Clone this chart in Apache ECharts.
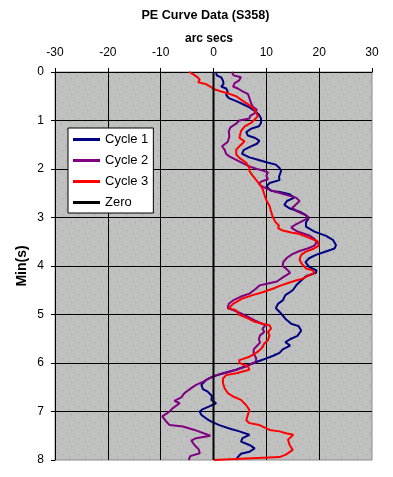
<!DOCTYPE html>
<html>
<head>
<meta charset="utf-8">
<script src="https://cdn.jsdelivr.net/npm/echarts@6/dist/echarts.min.js"></script>
<style>
html,body{margin:0;padding:0;background:#fff;}
#chart{width:393px;height:477px;}
</style>
</head>
<body>
<div id="chart"></div>
<script>
// ---- data: [arc secs, minutes] ----
var seriesNames = ['Cycle 1', 'Cycle 2', 'Cycle 3', 'Zero'];
var xTicks = [-30, -20, -10, 0, 10, 20, 30];
var yTicks = [0, 1, 2, 3, 4, 5, 6, 7, 8];

var cycle1 = [
  [0.5,0],[0.6,0.07],[1.45,0.11],[1.8,0.18],[1.9,0.25],[1.45,0.3],[2.4,0.34],[2.7,0.41],[2.4,0.47],[2.9,0.54],
  [4.3,0.6],[5.5,0.66],[6.8,0.73],[7.8,0.8],[8.6,0.88],[9.0,0.96],[9.0,1.05],[8.6,1.12],[7.1,1.17],[6.2,1.24],
  [6.5,1.31],[7.9,1.36],[8.7,1.42],[8.2,1.48],[6.8,1.55],[5.7,1.61],[5.4,1.69],[6.8,1.76],[8.4,1.81],[10.0,1.86],
  [11.8,1.91],[12.5,1.98],[12.8,2.04],[12.4,2.16],[12.5,2.23],[10.6,2.29],[10.0,2.36],[10.9,2.45],[12.8,2.48],[14.4,2.52],
  [15.3,2.59],[13.9,2.66],[13.4,2.74],[14.4,2.81],[16.3,2.88],[17.5,2.95],[18.0,3.02],[17.5,3.1],[17.5,3.19],[19.1,3.29],
  [21.3,3.38],[22.6,3.46],[23.2,3.57],[22.9,3.64],[21.0,3.71],[19.4,3.77],[18.1,3.84],[17.4,3.92],[18.1,4.02],[19.5,4.09],
  [19.4,4.14],[17.5,4.21],[16.6,4.3],[15.8,4.38],[15.0,4.5],[13.6,4.6],[13.1,4.71],[12.2,4.78],[11.8,4.87],[12.8,4.98],
  [13.7,5.1],[14.7,5.19],[16.1,5.24],[16.6,5.33],[15.9,5.44],[14.5,5.51],[13.6,5.57],[14.5,5.64],[13.1,5.72],[12.5,5.79],
  [11.3,5.85],[9.9,5.91],[8.6,5.96],[7.1,6.02],[5.9,6.07],[4.3,6.14],[1.8,6.21],[-0.1,6.28],[-1.4,6.35],[-2.3,6.45],
  [-2.0,6.54],[-1.1,6.59],[-0.3,6.68],[-0.4,6.76],[0.5,6.83],[-0.9,6.9],[-2.0,6.95],[-2.6,7.0],[-2.3,7.07],[-1.3,7.15],
  [-0.4,7.21],[1.1,7.28],[3.0,7.35],[4.9,7.41],[6.8,7.48],[5.5,7.55],[5.2,7.62],[6.8,7.69],[7.8,7.76],[6.8,7.83],
  [5.2,7.87],[4.6,7.94],[4.3,8.0]
];

var cycle2 = [
  [3.5,0],[3.8,0.07],[5.2,0.11],[4.8,0.18],[4.0,0.23],[3.7,0.3],[4.6,0.34],[5.5,0.4],[6.5,0.45],[6.8,0.54],
  [7.1,0.64],[7.4,0.71],[8.2,0.78],[7.8,0.85],[6.9,0.91],[6.8,0.96],[4.9,1.0],[4.2,1.07],[3.2,1.14],[2.9,1.22],
  [3.0,1.33],[2.7,1.44],[1.6,1.53],[2.1,1.6],[2.4,1.69],[3.0,1.74],[4.3,1.81],[5.5,1.88],[6.9,1.95],[8.2,2.0],
  [9.0,2.02],[10.3,2.07],[10.0,2.14],[10.3,2.21],[9.0,2.26],[8.6,2.31],[9.2,2.36],[10.6,2.43],[11.7,2.47],[13.4,2.52],
  [15.6,2.59],[16.3,2.66],[15.6,2.73],[14.9,2.8],[15.9,2.88],[17.4,2.95],[18.1,3.0],[16.9,3.07],[15.6,3.14],[14.7,3.21],
  [15.9,3.29],[18.1,3.37],[19.1,3.44],[19.5,3.51],[19.1,3.58],[17.8,3.64],[16.3,3.69],[15.0,3.75],[13.9,3.83],[13.2,3.92],
  [13.1,4.0],[13.9,4.07],[14.5,4.14],[13.2,4.23],[12.0,4.32],[10.3,4.36],[8.7,4.4],[7.9,4.48],[6.8,4.57],[5.2,4.63],
  [3.7,4.71],[2.9,4.78],[2.7,4.87],[3.7,4.91],[4.9,4.96],[6.2,5.03],[7.8,5.12],[9.0,5.18],[9.8,5.22],[9.3,5.29],
  [9.6,5.36],[8.8,5.43],[8.6,5.51],[8.8,5.58],[8.2,5.65],[7.6,5.72],[7.6,5.81],[8.1,5.9],[8.0,5.98],[7.1,6.02],
  [6.3,6.07],[4.6,6.13],[2.4,6.2],[0.5,6.25],[-0.9,6.32],[-2.0,6.39],[-3.3,6.45],[-4.5,6.54],[-5.5,6.62],[-6.1,6.71],
  [-7.4,6.78],[-6.4,6.83],[-7.7,6.93],[-8.3,7.0],[-9.7,7.1],[-9.0,7.2],[-8.3,7.28],[-5.8,7.31],[-3.6,7.38],[-0.6,7.5],
  [-3.3,7.55],[-4.2,7.6],[-3.6,7.69],[-2.8,7.78],[-2.6,7.86],[-4.4,7.92],[-4.7,8.0]
];

var cycle3 = [
  [-4.6,0],[-3.8,0.05],[-3.0,0.11],[-2.6,0.16],[-2.9,0.21],[-1.4,0.25],[-0.6,0.3],[0.0,0.35],[1.4,0.4],[3.0,0.45],
  [4.3,0.5],[5.2,0.57],[6.2,0.64],[7.1,0.71],[7.8,0.78],[8.1,0.85],[8.4,0.91],[7.8,0.98],[7.1,1.05],[5.9,1.12],
  [5.2,1.22],[4.9,1.36],[5.9,1.43],[4.9,1.53],[4.3,1.6],[4.3,1.7],[4.9,1.77],[6.2,1.87],[6.8,1.98],[6.8,2.04],
  [7.3,2.12],[8.1,2.23],[8.7,2.31],[9.3,2.41],[9.6,2.52],[10.0,2.64],[10.6,2.76],[10.9,2.88],[11.2,2.98],[11.7,3.09],
  [12.4,3.17],[12.2,3.22],[13.1,3.27],[14.7,3.31],[16.3,3.34],[18.1,3.42],[19.7,3.49],[19.9,3.58],[18.8,3.65],[17.4,3.71],
  [16.6,3.77],[16.3,3.86],[16.6,3.94],[16.9,3.98],[17.5,4.05],[18.8,4.09],[19.1,4.14],[17.8,4.21],[16.9,4.26],[15.6,4.3],
  [14.4,4.34],[12.8,4.4],[11.2,4.47],[9.3,4.54],[7.4,4.6],[5.5,4.67],[3.7,4.78],[2.9,4.87],[4.2,4.91],[4.8,5.0],
  [6.5,5.08],[7.8,5.15],[9.3,5.19],[10.6,5.22],[10.9,5.29],[10.3,5.36],[10.6,5.43],[10.3,5.53],[9.6,5.6],[9.3,5.67],
  [8.7,5.74],[7.8,5.81],[6.8,5.87],[4.9,5.94],[4.9,6.0],[6.5,6.07],[6.8,6.14],[4.3,6.21],[2.4,6.25],[1.8,6.32],
  [1.8,6.42],[2.1,6.52],[2.7,6.62],[3.7,6.69],[5.2,6.76],[6.2,6.87],[6.8,6.97],[6.5,7.07],[6.2,7.18],[6.8,7.24],
  [8.7,7.28],[10.6,7.38],[12.5,7.41],[13.7,7.45],[15.1,7.48],[15.3,7.52],[14.1,7.58],[14.4,7.69],[15.0,7.79],[13.7,7.89],
  [12.5,7.94],[0.1,8.0]
];

var zero = [[0,0],[0,8]];

var seriesData = [cycle1, cycle2, cycle3, zero];
var seriesColors = ['#000080', '#800080', '#ff0000', '#000000'];

// ---- background texture ----
function makePattern() {
  var c = document.createElement('canvas');
  c.width = 16; c.height = 16;
  var g = c.getContext('2d');
  g.fillStyle = '#c0c0c0';
  g.fillRect(0, 0, 16, 16);
  var green = [[2,1],[10,4],[5,9],[13,12]];
  var grey = [[7,14],[14,6]];
  g.fillStyle = '#74b874';
  green.forEach(function (p) { g.fillRect(p[0], p[1], 1, 1); });
  g.fillStyle = '#a0a0a0';
  grey.forEach(function (p) { g.fillRect(p[0], p[1], 1, 1); });
  return c;
}

var FONT = '"Liberation Sans", Arial, sans-serif';
var chart = echarts.init(document.getElementById('chart'), null, {renderer: 'canvas'});

var series = seriesNames.map(function (name, i) {
  return {
    name: name,
    type: 'line',
    data: seriesData[i],
    symbol: 'none',
    showSymbol: false,
    smooth: false,
    animation: false,
    lineStyle: {color: seriesColors[i], width: 2},
    itemStyle: {color: seriesColors[i]},
    z: 3 + i
  };
});

chart.setOption({
  animation: false,
  backgroundColor: '#ffffff',
  textStyle: {fontFamily: FONT},
  grid: {
    left: 55, right: 21, top: 72, bottom: 17,
    show: true,
    backgroundColor: {image: makePattern(), repeat: 'repeat'},
    borderColor: '#8c8c8c',
    borderWidth: 1
  },
  legend: {
    data: seriesNames,
    orient: 'vertical',
    left: 68, top: 128,
    padding: [4, 5, 3, 5],
    itemGap: 6,
    itemWidth: 27,
    itemHeight: 3,
    icon: 'rect',
    backgroundColor: '#ffffff',
    borderColor: '#000000',
    borderWidth: 1,
    borderRadius: 0,
    selectedMode: false,
    textStyle: {fontFamily: FONT, fontSize: 13, color: '#000', lineHeight: 15}
  },
  xAxis: {
    type: 'value',
    position: 'top',
    min: xTicks[0], max: xTicks[xTicks.length - 1], interval: 10,
    axisLine: {show: true, onZero: false, lineStyle: {color: '#000', width: 1}},
    axisTick: {show: true, inside: false, length: 4, lineStyle: {color: '#000'}},
    axisLabel: {color: '#000', fontSize: 12, fontFamily: FONT, margin: 13},
    splitLine: {show: true, showMaxLine: false, lineStyle: {color: '#000', width: 1}}
  },
  yAxis: {
    type: 'value',
    inverse: true,
    min: yTicks[0], max: yTicks[yTicks.length - 1], interval: 1,
    axisLine: {show: true, onZero: false, lineStyle: {color: '#000', width: 1}},
    axisTick: {show: true, inside: false, length: 4, lineStyle: {color: '#000'}},
    axisLabel: {color: '#000', fontSize: 12, fontFamily: FONT, margin: 11},
    splitLine: {show: true, showMaxLine: false, lineStyle: {color: '#000', width: 1}}
  },
  graphic: [
    {type: 'text', x: 205.5, y: 16, style: {text: 'PE Curve Data (S358)', font: 'bold 12.6px ' + FONT, fill: '#000', textAlign: 'center', textVerticalAlign: 'middle'}},
    {type: 'text', x: 209, y: 39, style: {text: 'arc secs', font: 'bold 12px ' + FONT, fill: '#000', textAlign: 'center', textVerticalAlign: 'middle'}},
    {type: 'text', x: 22, y: 266, rotation: Math.PI / 2, style: {text: 'Min(s)', font: 'bold 14px ' + FONT, fill: '#000', textAlign: 'center', textVerticalAlign: 'middle'}}
  ],
  series: series
});
</script>
</body>
</html>
